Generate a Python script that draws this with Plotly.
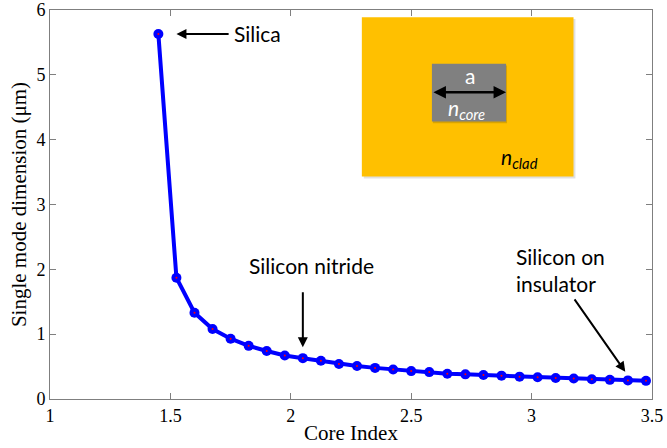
import plotly.graph_objects as go

core_index = [1.45, 1.525, 1.60, 1.675, 1.75, 1.825, 1.90, 1.975, 2.05, 2.125,
              2.20, 2.275, 2.35, 2.425, 2.50, 2.575, 2.65, 2.725, 2.80, 2.875,
              2.95, 3.025, 3.10, 3.175, 3.25, 3.325, 3.40, 3.475]
mode_dim = [5.63, 1.87, 1.33, 1.08, 0.93, 0.82, 0.74, 0.67, 0.63, 0.59,
            0.54, 0.51, 0.48, 0.455, 0.43, 0.415, 0.39, 0.38, 0.37, 0.36,
            0.345, 0.335, 0.325, 0.315, 0.305, 0.295, 0.287, 0.28]
x_ticks = [1, 1.5, 2, 2.5, 3, 3.5]
x_tick_labels = ["1", "1.5", "2", "2.5", "3", "3.5"]
y_ticks = [0, 1, 2, 3, 4, 5, 6]

fig = go.Figure()
fig.add_trace(go.Scatter(
    x=core_index, y=mode_dim, mode="lines+markers",
    line=dict(color="rgb(0,0,255)", width=4),
    marker=dict(color="rgb(0,0,255)", size=10),
    showlegend=False, hoverinfo="skip", cliponaxis=False))
fig.add_trace(go.Scatter(
    x=core_index, y=mode_dim, mode="markers",
    marker=dict(color="red", size=2),
    showlegend=False, hoverinfo="skip", cliponaxis=False))

axis_common = dict(showline=True, linecolor="#7f7f7f", linewidth=1, mirror="ticks",
                   ticks="inside", ticklen=6, tickcolor="#7f7f7f", showgrid=False,
                   zeroline=False, ticklabeloverflow="allow", automargin=False,
                   tickfont=dict(family="Liberation Serif", size=18, color="black"))

fig.update_xaxes(range=[1, 3.5], tickvals=x_ticks, ticktext=x_tick_labels,
                 title=dict(text="Core Index", standoff=0,
                            font=dict(family="Liberation Serif", size=21, color="black")),
                 **axis_common)
fig.update_yaxes(range=[0, 6], tickvals=y_ticks,
                 title=dict(text="Single mode dimension (\u03bcm)", standoff=4,
                            font=dict(family="Liberation Serif", size=21, color="black")),
                 **axis_common)

# Inset schematic
fig.add_shape(type="rect", xref="x", yref="y", x0=2.303, x1=3.182, y0=3.40, y1=5.86,
              fillcolor="rgba(0,0,0,0.12)", line=dict(width=0), layer="above")
fig.add_shape(type="rect", xref="x", yref="y", x0=2.295, x1=3.174, y0=3.43, y1=5.89,
              fillcolor="rgb(255,192,0)", line=dict(width=0), layer="above")
fig.add_shape(type="rect", xref="x", yref="y", x0=2.590, x1=2.898, y0=4.255, y1=5.145,
              fillcolor="rgba(0,0,0,0.15)", line=dict(width=0), layer="above")
fig.add_shape(type="rect", xref="x", yref="y", x0=2.586, x1=2.894, y0=4.28, y1=5.17,
              fillcolor="rgb(128,128,128)", line=dict(width=0), layer="above")

ann_font = dict(family="Lato", size=21, color="black")
annotations = [
    dict(x=2.745, y=4.99, text="a", showarrow=False,
         font=dict(family="Lato", size=21, color="white")),
    dict(x=2.73, y=4.47, text="<i>n</i><sub><i>core</i></sub>", showarrow=False,
         font=dict(family="Lato", size=21, color="white")),
    dict(x=2.95, y=3.72, text="<i>n</i><sub><i>clad</i></sub>", showarrow=False,
         font=dict(family="Lato", size=21, color="black")),
    # double arrow
    dict(x=2.894, y=4.73, ax=2.586, ay=4.73, axref="x", ayref="y", text="",
         showarrow=True, arrowhead=2, arrowsize=1, arrowwidth=2.5, arrowcolor="black",
         startarrowhead=2, arrowside="end+start"),
    dict(x=1.525, y=5.63, ax=1.748, ay=5.63, axref="x", ayref="y", text="",
         showarrow=True, arrowhead=2, arrowsize=1, arrowwidth=2, arrowcolor="black"),
    dict(x=1.755, y=5.63, text="Silica", showarrow=False, xanchor="left", font=ann_font),
    dict(x=2.05, y=0.80, ax=2.05, ay=1.67, axref="x", ayref="y", text="",
         showarrow=True, arrowhead=2, arrowsize=1, arrowwidth=2, arrowcolor="black"),
    dict(x=2.084, y=2.06, text="Silicon nitride", showarrow=False, font=ann_font),
    dict(x=3.389, y=0.42, ax=3.174, ay=1.56, axref="x", ayref="y", text="",
         showarrow=True, arrowhead=2, arrowsize=1, arrowwidth=2, arrowcolor="black"),
    dict(x=2.928, y=1.99, text="Silicon on<br>insulator", showarrow=False,
         xanchor="left", align="left", font=ann_font),
]
fig.update_layout(annotations=annotations)

fig.update_layout(width=667, height=448, margin=dict(l=50, r=15, t=10, b=49),
                  plot_bgcolor="white", paper_bgcolor="white")

fig.write_html("out.html")
